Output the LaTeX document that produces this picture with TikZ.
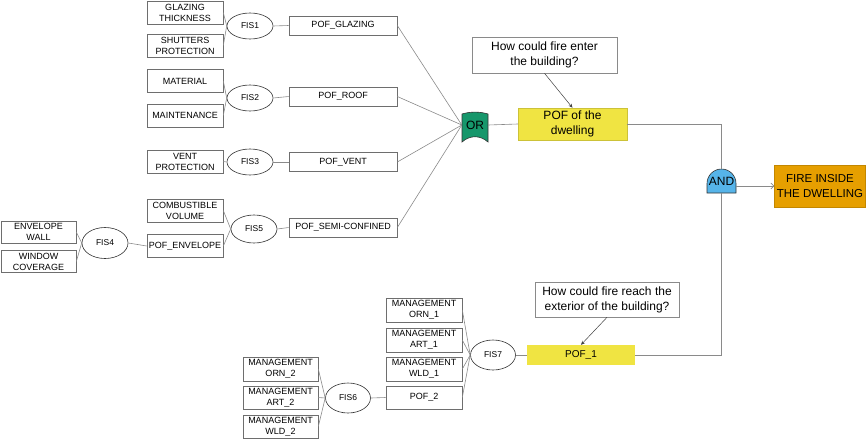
\documentclass[tikz,border=0pt]{standalone}
\usepackage{fontspec}
\setmainfont{Liberation Sans}
\usetikzlibrary{arrows.meta,shapes.geometric}
\definecolor{wire}{HTML}{8A8A8A}
\definecolor{boxline}{HTML}{6E6E6E}
\definecolor{orgreen}{HTML}{16976B}
\definecolor{andblue}{HTML}{56B4E9}
\definecolor{pofyellow}{HTML}{F0E442}
\definecolor{fireorange}{HTML}{E69F00}
\tikzset{
  inbox/.style={draw=boxline, line width=0.6pt, fill=white, inner sep=0pt, align=center,
    font=\fontsize{9}{11}\selectfont, minimum width=76pt, minimum height=23pt},
  pofbox/.style={draw=boxline, line width=0.6pt, fill=white, inner sep=0pt, align=center,
    font=\fontsize{9}{11}\selectfont, minimum width=108pt, minimum height=19pt},
  fis/.style={ellipse, draw=black!80, line width=0.6pt, fill=white, inner sep=0pt,
    font=\fontsize{8.5}{10}\selectfont, minimum width=46pt, minimum height=28pt},
  qbox/.style={draw=wire, line width=0.6pt, fill=white, inner sep=0pt, align=center,
    font=\fontsize{12}{15}\selectfont},
  wireline/.style={draw=wire, line width=0.6pt},
  gatetext/.style={inner sep=0pt, font=\fontsize{12}{14}\selectfont},
  qarrow/.style={draw=black!75, line width=0.5pt, -{Stealth[length=4pt,width=3.5pt]}},
}
\begin{document}
\begin{tikzpicture}[x=1pt,y=-1pt]
\useasboundingbox (0,0) rectangle (866,439);

% ---------- gates (shapes) ----------
\draw[draw=black!80, line width=0.6pt, fill=orgreen]
  (462,142) -- (462,114) .. controls (470,111.5) and (480,111.5) .. (488,114)
  -- (488,142) .. controls (480,135) and (470,135) .. (462,142) -- cycle;
\node[gatetext, minimum width=26pt, minimum height=26pt] (or) at (475,125) {OR};

\draw[draw=black!80, line width=0.6pt, fill=andblue]
  (707,193) -- (707,183.5) arc[start angle=180, end angle=0, radius=14.5pt]
  -- (736,193) -- cycle;
\node[gatetext, minimum width=29pt, minimum height=24pt] (and) at (721.5,181) {AND};

% ---------- top group ----------
\node[inbox] (gt) at (185,12.5) {GLAZING\\THICKNESS};
\node[inbox] (sp) at (185,45.5) {SHUTTERS\\PROTECTION};
\node[fis, minimum height=26pt] (fis1) at (250,26) {FIS1};
\node[pofbox] (pglz) at (343,25.5) {POF\_GLAZING};

\node[inbox] (mat) at (185,81) {MATERIAL};
\node[inbox] (mnt) at (185,115.5) {MAINTENANCE};
\node[fis, minimum height=26pt] (fis2) at (250,98) {FIS2};
\node[pofbox] (proof) at (343,96.5) {POF\_ROOF};

\node[inbox] (vp) at (185,161.5) {VENT\\PROTECTION};
\node[fis, minimum height=26pt] (fis3) at (250,162) {FIS3};
\node[pofbox] (pvent) at (343,162) {POF\_VENT};

\node[inbox] (cv) at (185,210.5) {COMBUSTIBLE\\VOLUME};
\node[inbox] (penv) at (185,246) {POF\_ENVELOPE};
\node[fis] (fis5) at (254,229) {FIS5};
\node[pofbox] (psemi) at (343,227.5) {POF\_SEMI-CONFINED};

\node[inbox, minimum width=75pt, minimum height=22pt] (ew) at (38.5,232) {ENVELOPE\\WALL};
\node[inbox, minimum width=75pt, minimum height=22pt] (wc) at (38.5,261.5) {WINDOW\\COVERAGE};
\node[fis, minimum height=31pt] (fis4) at (105,243) {FIS4};

\node[draw=pofyellow!85!black, line width=0.5pt, fill=pofyellow, inner sep=0pt, align=center,
  font=\fontsize{12}{14.5}\selectfont, minimum width=109pt, minimum height=32pt]
  (pofd) at (572.5,124) {POF of the\\dwelling};
\node[qbox, minimum width=145pt, minimum height=36pt] (q1) at (544.5,55)
  {How could fire enter\\the building?};

\node[draw=fireorange!85!black, line width=0.5pt, fill=fireorange, inner sep=0pt, align=center,
  font=\fontsize{11.5}{14.3}\selectfont, minimum width=91pt, minimum height=42pt]
  (fire) at (820,186) {FIRE INSIDE\\THE DWELLING};

% ---------- bottom group ----------
\node[qbox, minimum width=144pt, minimum height=35pt] (q2) at (607,299.5)
  {How could fire reach the\\exterior of the building?};
\node[fill=pofyellow, inner sep=0pt, font=\fontsize{10}{12}\selectfont,
  minimum width=108pt, minimum height=20pt] (pof1) at (581,355) {POF\_1};
\node[fis, minimum width=45pt, minimum height=30pt] (fis7) at (493,355) {FIS7};

\node[inbox, minimum height=24pt] (mo1) at (424,310) {MANAGEMENT\\ORN\_1};
\node[inbox, minimum height=24pt] (ma1) at (424,340) {MANAGEMENT\\ART\_1};
\node[inbox, minimum height=24pt] (mw1) at (424,369) {MANAGEMENT\\WLD\_1};
\node[inbox] (pof2) at (424,397.5) {POF\_2};
\node[fis, minimum width=45pt, minimum height=30pt] (fis6) at (348,398) {FIS6};

\node[inbox, minimum width=75pt, minimum height=24pt] (mo2) at (280.5,369) {MANAGEMENT\\ORN\_2};
\node[inbox, minimum width=75pt] (ma2) at (280.5,397.5) {MANAGEMENT\\ART\_2};
\node[inbox, minimum width=75pt] (mw2) at (280.5,426.5) {MANAGEMENT\\WLD\_2};

% ---------- connectors ----------
\foreach \a/\b in {gt/fis1, sp/fis1, mat/fis2, mnt/fis2, vp/fis3, cv/fis5, penv/fis5,
  ew/fis4, wc/fis4, mo1/fis7, ma1/fis7, mw1/fis7, pof2/fis7, mo2/fis6, ma2/fis6, mw2/fis6}
  \draw[wireline] (\a.east) -- (\b.west);
\foreach \a/\b in {fis1/pglz, fis2/proof, fis3/pvent, fis5/psemi, fis4/penv, fis7/pof1, fis6/pof2}
  \draw[wireline] (\a.east) -- (\b.west);
\foreach \a in {pglz, proof, pvent, psemi}
  \draw[wireline] (\a.east) -- (or.west);
\draw[wireline] (or.east) -- (pofd.west);
\draw[wireline] (pofd.east) -| (and.north);
\draw[wireline] (pof1.east) -| (and.south);
\draw[wireline, -{Straight Barb[length=3pt,width=6pt]}] (and.east |- fire.west) -- (fire.west);
\draw[qarrow] (q1.south) -- (pofd.north);
\draw[qarrow] (q2.south) -- (pof1.north);
\end{tikzpicture}
\end{document}
